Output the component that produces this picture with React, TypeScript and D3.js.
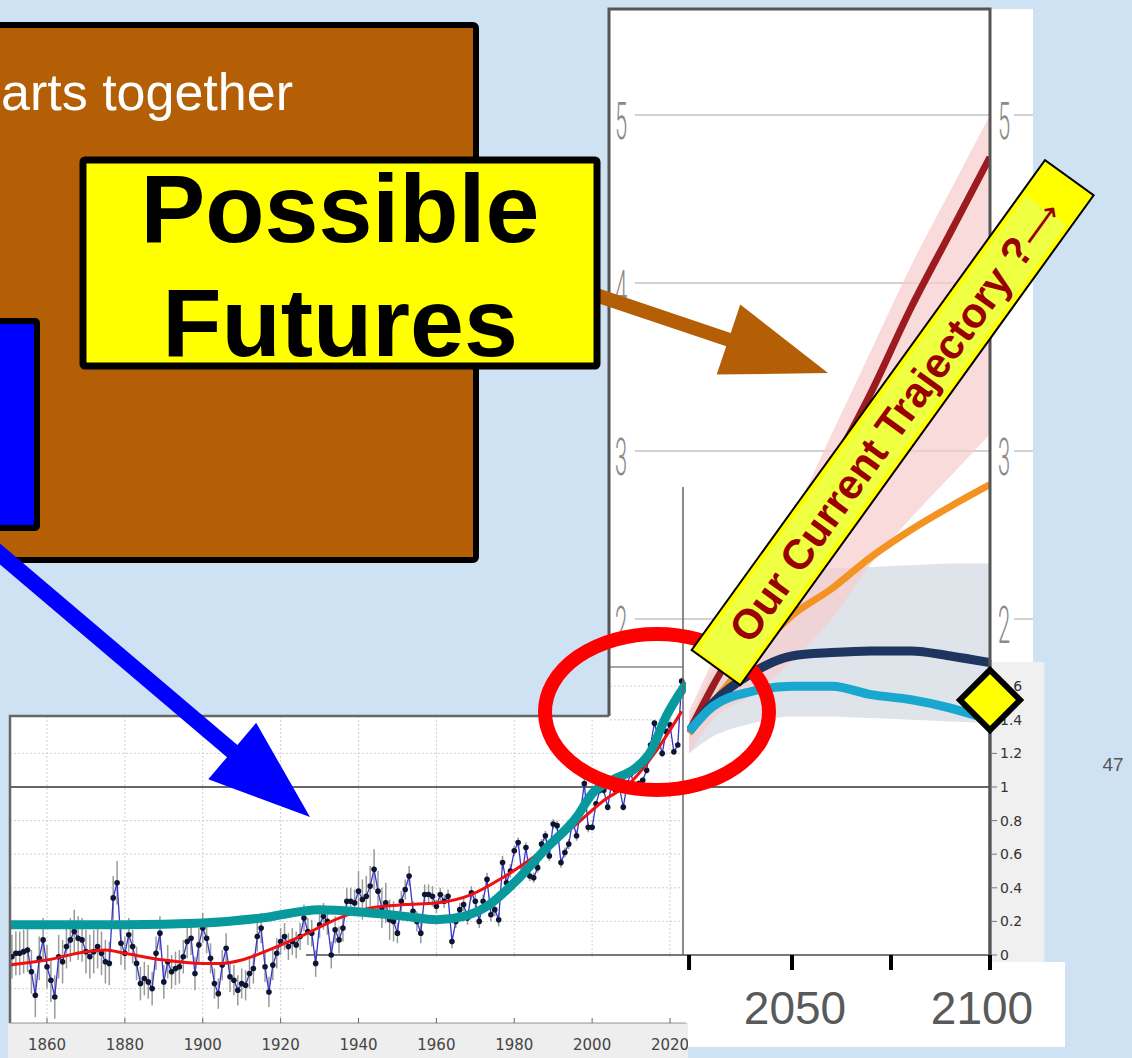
import React from 'react';
import * as d3 from 'd3';

const histStart = 1850;
const anomalies = [
  0.0, -0.01, 0.01, 0.01, 0.02, 0.03, -0.1, -0.24, -0.02, 0.09,
  -0.07, -0.15, -0.25, -0.01, -0.04, 0.05, 0.09, 0.14, 0.1, 0.09,
  0.02, -0.01, 0.02, 0.05, 0.01, -0.04, -0.05, 0.34, 0.43, 0.07,
  0.01, 0.12, 0.05, -0.05, -0.17, -0.14, -0.16, -0.2, 0.01, 0.13,
  -0.16, -0.04, -0.1, -0.08, -0.07, -0.01, 0.08, 0.1, -0.11, 0.06,
  0.16, 0.1, -0.02, -0.17, -0.23, -0.06, 0.04, -0.13, -0.15, -0.21,
  -0.17, -0.18, -0.11, -0.08, 0.11, 0.16, -0.07, -0.22, -0.06, 0.01,
  0.08, 0.11, 0.05, 0.08, 0.06, 0.11, 0.22, 0.14, 0.13, -0.05,
  0.18, 0.23, 0.2, 0.0, 0.15, 0.09, 0.16, 0.32, 0.32, 0.31,
  0.38, 0.33, 0.35, 0.41, 0.51, 0.38, 0.28, 0.31, 0.21, 0.2,
  0.13, 0.32, 0.39, 0.47, 0.26, 0.2, 0.13, 0.36, 0.36, 0.35,
  0.29, 0.36, 0.32, 0.35, 0.08, 0.2, 0.27, 0.3, 0.22, 0.37,
  0.32, 0.2, 0.32, 0.45, 0.24, 0.27, 0.21, 0.55, 0.43, 0.5,
  0.62, 0.67, 0.47, 0.64, 0.47, 0.46, 0.52, 0.66, 0.71, 0.59,
  0.78, 0.77, 0.55, 0.61, 0.66, 0.8, 0.71, 0.85, 1.02, 0.76,
  0.76, 0.9, 0.98, 0.98, 0.88, 1.02, 0.98, 1.0, 0.88, 1.02,
  1.08, 0.98, 1.02, 1.04, 1.1, 1.25, 1.38, 1.29, 1.2, 1.33,
  1.37, 1.21, 1.25, 1.63,
];

// half-length of the grey uncertainty bars, by period start year
const errEras: [number, number][] = [
  [1850, 0.13], [1880, 0.1], [1900, 0.09], [1920, 0.08], [1940, 0.12],
  [1950, 0.06], [1960, 0.04], [1980, 0.03], [2000, 0.02],
];

// red smoothed curve
const redSmooth: [number, number][] = [
  [1850, -0.06], [1860, -0.03], [1870, 0.02], [1875, 0.03], [1880, 0.01], [1890, -0.03],
  [1900, -0.05], [1905, -0.05], [1910, -0.03], [1918, 0.04], [1926, 0.12], [1935, 0.22],
  [1943, 0.28], [1952, 0.3], [1960, 0.31], [1969, 0.36], [1977, 0.46], [1986, 0.6],
  [1995, 0.76], [2003, 0.92], [2010, 1.03], [2016, 1.2], [2023, 1.45],
];

// thick teal trend curve
const tealSmooth: [number, number][] = [
  [1850, 0.18], [1880, 0.18], [1900, 0.19], [1915, 0.22], [1930, 0.27], [1943, 0.25],
  [1952, 0.23], [1960, 0.21], [1967, 0.23], [1973, 0.29], [1980, 0.43], [1988, 0.63],
  [1996, 0.82], [2000, 0.96], [2005, 1.04], [2011, 1.11], [2015, 1.21], [2019, 1.42],
  [2023.7, 1.6],
];

// scenario projections (upper right chart)
const projYears = [2024, 2030, 2040, 2050, 2060, 2070, 2080, 2090, 2100];
const sspVeryHigh = [1.33, 1.6, 2.0, 2.45, 2.9, 3.35, 3.85, 4.3, 4.75];
const sspVeryHighLo = [1.2, 1.4, 1.55, 1.75, 2.0, 2.33, 2.6, 2.85, 3.1];
const sspVeryHighHi = [1.45, 1.75, 2.2, 2.6, 3.1, 3.6, 4.1, 4.55, 5.0];
const sspIntermediate = [1.32, 1.5, 1.78, 2.02, 2.18, 2.37, 2.53, 2.67, 2.8];
const sspLow = [1.33, 1.5, 1.68, 1.78, 1.8, 1.81, 1.81, 1.78, 1.74];
const sspVeryLow = [1.33, 1.48, 1.57, 1.6, 1.6, 1.55, 1.52, 1.47, 1.4];
const sspLowBandHi = [1.4, 1.7, 2.05, 2.28, 2.3, 2.31, 2.32, 2.33, 2.33];
const sspLowBandLo = [1.2, 1.3, 1.38, 1.42, 1.42, 1.41, 1.4, 1.39, 1.38];

const histTicks = [1860, 1880, 1900, 1920, 1940, 1960, 1980, 2000, 2020];
const histGrid = [-0.2, 0.2, 0.4, 0.6, 0.8, 1.2];
const rightTicks = [0, 0.2, 0.4, 0.6, 0.8, 1, 1.2, 1.4, 1.6];
const futureLeftTicks = [5, 4, 3, 2];
const futureRightTicks = [5, 3, 2];
const futureTicks = [2024, 2050, 2075, 2100];
const futureLabels = [2050, 2100];

const arrowPoly = (x1: number, y1: number, x2: number, y2: number, sh: number, hh: number, hl: number) => {
  const L = Math.hypot(x2 - x1, y2 - y1);
  const ux = (x2 - x1) / L, uy = (y2 - y1) / L;
  const nx = -uy, ny = ux;
  const bx = x2 - ux * hl, by = y2 - uy * hl;
  const pts = [
    [x1 + nx * sh, y1 + ny * sh], [bx + nx * sh, by + ny * sh], [bx + nx * hh, by + ny * hh],
    [x2, y2],
    [bx - nx * hh, by - ny * hh], [bx - nx * sh, by - ny * sh], [x1 - nx * sh, y1 - ny * sh],
  ];
  return 'M' + pts.map((p) => p.join(',')).join('L') + 'Z';
};

export default function App() {
  const y = d3.scaleLinear().domain([0, 5]).range([955, 115]);
  const xL = d3.scaleLinear().domain([1860, 2020]).range([47, 670]);
  const xR = d3.scaleLinear().domain([2050, 2100]).range([792, 990]);

  const hist = anomalies.map((v, i) => ({ year: histStart + i, v }));
  const errFor = (yr: number) => {
    let e = errEras[0][1];
    errEras.forEach(([s, val]) => { if (yr >= s) e = val; });
    return e;
  };

  const histLine = d3.line<{ year: number; v: number }>().x((d) => xL(d.year)).y((d) => y(d.v));
  const smooth = d3.line<[number, number]>().x((d) => xL(d[0])).y((d) => y(d[1])).curve(d3.curveMonotoneX);
  const projLine = (vals: number[]) =>
    d3.line<number>().x((_, i) => xR(projYears[i])).y((d) => y(d)).curve(d3.curveMonotoneX)(vals) || '';
  const projArea = (lo: number[], hi: number[]) =>
    d3.area<number>().x((_, i) => xR(projYears[i])).y0((_, i) => y(lo[i])).y1((d) => y(d)).curve(d3.curveMonotoneX)(hi) || '';

  const narrow = { fontFamily: 'Roboto, "DejaVu Sans", sans-serif', fontWeight: 300, fontSize: 52, fill: '#8a8a8a' };

  return (
    <svg width={1132} height={1058} style={{ position: 'absolute', left: 0, top: 0, display: 'block' }}>
      <defs>
        <clipPath id="histClip"><rect x={10} y={600} width={676} height={423} /></clipPath>
        <clipPath id="projClip"><rect x={687} y={9} width={303} height={946} /></clipPath>
      </defs>
      <rect width={1132} height={1058} fill="#cfe2f3" />

      {/* white panels */}
      <rect x={609} y={9} width={381} height={710} fill="#fff" />
      <rect x={990} y={9} width={43} height={653} fill="#fff" />
      <rect x={10} y={716} width={980} height={307} fill="#fff" />

      {/* upper chart grid + labels */}
      {futureLeftTicks.map((t) => (
        <g key={'fl' + t}>
          <line x1={635} x2={990} y1={y(t)} y2={y(t)} stroke="#d2d2d2" strokeWidth={2} />
          <text transform={`translate(621,${y(t) + 24}) scale(0.42,1)`} textAnchor="middle" {...narrow}>{t}</text>
        </g>
      ))}
      {futureRightTicks.map((t) => (
        <g key={'fr' + t}>
          <line x1={1014} x2={1033} y1={y(t)} y2={y(t)} stroke="#d2d2d2" strokeWidth={2} />
          <text transform={`translate(1004,${y(t) + 24}) scale(0.42,1)`} textAnchor="middle" {...narrow}>{t}</text>
        </g>
      ))}

      {/* lower chart grid */}
      {histTicks.map((t) => (
        <line key={'vg' + t} x1={xL(t)} x2={xL(t)} y1={716} y2={1021} stroke="#cfcfcf" strokeDasharray="2,2" />
      ))}
      {histGrid.map((v) => (
        <line key={'hg' + v} x1={10} x2={683} y1={y(v)} y2={y(v)} stroke="#cfcfcf" strokeDasharray="2,2" />
      ))}
      {[1.4, 1.6].map((v) => (
        <line key={'hg2' + v} x1={610} x2={683} y1={y(v)} y2={y(v)} stroke="#cfcfcf" strokeDasharray="2,2" />
      ))}
      <rect x={306} y={957} width={377} height={64} fill="#fff" />
      <line x1={306} x2={990} y1={y(0)} y2={y(0)} stroke="#777" strokeWidth={2} />
      <line x1={10} x2={990} y1={y(1)} y2={y(1)} stroke="#666" strokeWidth={2} />
      <line x1={609} x2={683} y1={667} y2={667} stroke="#888" strokeWidth={1.5} />

      {/* projections */}
      <g clipPath="url(#projClip)">
        <path d={projArea(sspLowBandLo, sspLowBandHi)} fill="#dfe3ea" />
        <path d={projArea(sspVeryHighLo, sspVeryHighHi)} fill="#f7cccc" opacity={0.7} />
        <path d={projLine(sspVeryHigh)} fill="none" stroke="#9b1b1f" strokeWidth={7} />
        <path d={projLine(sspIntermediate)} fill="none" stroke="#f39322" strokeWidth={7} />
        <path d={projLine(sspLow)} fill="none" stroke="#1d355f" strokeWidth={9} />
        <path d={projLine(sspVeryLow)} fill="none" stroke="#17a7cf" strokeWidth={9} />
      </g>

      {/* historical series */}
      <g clipPath="url(#histClip)">
        {hist.map((d) => (
          <line key={'e' + d.year} x1={xL(d.year)} x2={xL(d.year)} y1={y(d.v - errFor(d.year))} y2={y(d.v + errFor(d.year))}
            stroke="#9a9a9a" strokeWidth={1.5} />
        ))}
        <path d={histLine(hist) || ''} fill="none" stroke="#3535cc" strokeWidth={1.3} />
        {hist.map((d) => (
          <circle key={'c' + d.year} cx={xL(d.year)} cy={y(d.v)} r={2.8} fill="#0d1530" />
        ))}
        <path d={smooth(redSmooth) || ''} fill="none" stroke="#f01010" strokeWidth={3} />
        <path d={smooth(tealSmooth) || ''} fill="none" stroke="#08999c" strokeWidth={9} strokeLinecap="round" />
      </g>
      <line x1={683} x2={683} y1={487} y2={955} stroke="#666" strokeWidth={1.5} />

      {/* frames */}
      <path d="M609,716 L609,9 L990,9 L990,962" fill="none" stroke="#555" strokeWidth={3} />
      <path d="M10,1023 L10,716 L609,716" fill="none" stroke="#666" strokeWidth={2.5} />
      <line x1={10} x2={686} y1={1023} y2={1023} stroke="#999" />

      {/* right axis of the lower chart */}
      <rect x={991.5} y={662} width={53} height={300} fill="#f0f0f0" />
      <line x1={990} x2={990} y1={660} y2={962} stroke="#555" strokeWidth={3} />
      {rightTicks.map((t) => (
        <g key={'rt' + t}>
          <line x1={990} x2={997} y1={y(t)} y2={y(t)} stroke="#777" />
          <text x={1000} y={y(t) + 5} fontFamily='"DejaVu Sans", sans-serif' fontSize={14} fill="#333">{String(t)}</text>
        </g>
      ))}

      {/* lower x axis */}
      <rect x={8} y={1024} width={680} height={34} fill="#eeeeee" />
      {histTicks.map((t) => (
        <g key={'xt' + t}>
          <line x1={xL(t)} x2={xL(t)} y1={1018} y2={1023} stroke="#666" />
          <text x={xL(t)} y={1050} textAnchor="middle" fontFamily='"DejaVu Sans", sans-serif' fontSize={15} fill="#444">{t}</text>
        </g>
      ))}

      {/* future x axis */}
      <rect x={688} y={962} width={377} height={85} fill="#fff" />
      {futureTicks.map((t) => (
        <line key={'ft' + t} x1={xR(t)} x2={xR(t)} y1={955} y2={970} stroke="#000" strokeWidth={4} />
      ))}
      {futureLabels.map((t) => (
        <text key={'fl2' + t} x={xR(t) + (t === 2100 ? -8 : 3)} y={1024} textAnchor="middle"
          fontFamily='"Liberation Sans", Arial, sans-serif' fontSize={46} fill="#595959">{t}</text>
      ))}

      {/* brown panel */}
      <rect x={-20} y={25} width={496} height={535} fill="#b45f06" stroke="#000" strokeWidth={6} rx={3} />
      <text x={1} y={110} fontFamily='"Liberation Sans", Arial, sans-serif' fontSize={52} fill="#fff">arts together</text>
      <rect x={-20} y={321} width={57} height={207} fill="#0000ff" stroke="#000" strokeWidth={6} rx={2} />

      {/* arrows */}
      <path d={arrowPoly(-6, 549, 310, 817, 8, 37, 102)} fill="#0000ff" />
      <path d={arrowPoly(590, 293, 828, 373, 7, 37, 105)} fill="#b45f06" />

      {/* yellow label */}
      <rect x={83} y={160} width={514} height={206} fill="#ffff00" stroke="#000" strokeWidth={7} rx={2} />
      <text x={340} y={242} textAnchor="middle" fontFamily='"Liberation Sans", Arial, sans-serif' fontWeight="bold" fontSize={97} fill="#000">Possible</text>
      <text x={340} y={356} textAnchor="middle" fontFamily='"Liberation Sans", Arial, sans-serif' fontWeight="bold" fontSize={97} fill="#000">Futures</text>

      {/* red ellipse */}
      <ellipse cx={657} cy={712} rx={112} ry={78} fill="none" stroke="#ff0000" strokeWidth={14} />

      {/* diagonal banner */}
      <g transform="translate(716,667.5) rotate(-54.2)">
        <rect x={0} y={-30} width={604} height={60} fill="#ffff00" stroke="#000" strokeWidth={2} />
        <rect x={4} y={-25} width={560} height={50} fill="#efff42" />
        <text x={38} y={15} fontFamily='"Liberation Sans", Arial, sans-serif' fontWeight="bold" fontSize={42} fill="#990000">
          Our Current Trajectory ?
          <tspan fontFamily='"DejaVu Sans", sans-serif' fontWeight="normal" fontSize={32}>⟶</tspan>
        </text>
      </g>

      {/* diamond marker */}
      <path d="M990,670 L1020,700 L990,730 L960,700 Z" fill="#ffff00" stroke="#000" strokeWidth={6} strokeLinejoin="miter" />

      <text x={1113} y={771} textAnchor="middle" fontFamily='"Liberation Sans", Arial, sans-serif' fontSize={19} fill="#555">47</text>
    </svg>
  );
}
